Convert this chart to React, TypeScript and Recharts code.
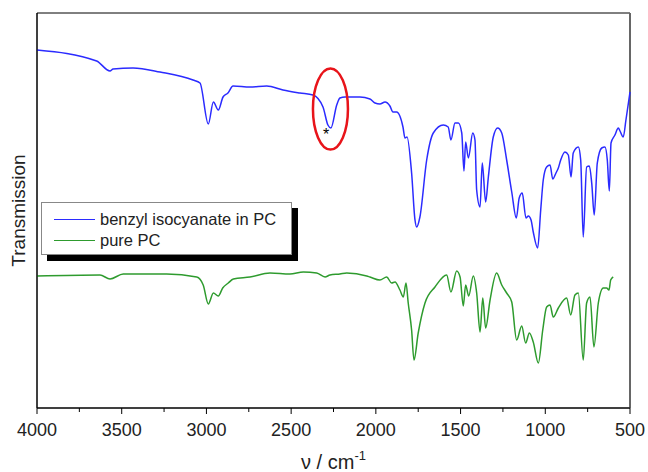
import { ComposedChart, Line, XAxis, YAxis, ReferenceArea, ReferenceDot, ReferenceLine } from "recharts";

// wavenumbers (cm^-1) and relative transmission
const NU_BLUE = [4000, 3648, 3569, 3551, 3433, 3274, 3079, 3038, 2989, 2959, 2930, 2902, 2873, 2843, 2743, 2644, 2548, 2448, 2371, 2312, 2283, 2265, 2231, 2212, 2182, 2094, 2035, 2005, 1976, 1946, 1917, 1899, 1877, 1840, 1828, 1816, 1789, 1769, 1759, 1740, 1700, 1661, 1602, 1573, 1557, 1533, 1513, 1493, 1480, 1470, 1454, 1428, 1415, 1405, 1385, 1372, 1352, 1336, 1307, 1281, 1257, 1228, 1198, 1171, 1154, 1136, 1114, 1100, 1084, 1071, 1045, 1027, 1012, 992, 972, 956, 937, 923, 909, 884, 864, 848, 835, 805, 791, 776, 756, 740, 726, 711, 693, 667, 648, 634, 622, 612, 589, 569, 559, 540, 524, 500];
const T_BLUE = [358, 347, 337, 339, 340, 336, 328, 325, 284, 306, 298, 311, 315, 322, 321, 322, 318, 315, 313, 301, 283, 280, 303, 310, 311, 311, 309, 305, 304, 306, 302, 296, 296, 281, 270, 271, 235, 188, 181, 191, 248, 275, 283, 281, 268, 285, 285, 275, 237, 266, 250, 275, 268, 218, 201, 245, 206, 231, 271, 280, 275, 248, 216, 190, 210, 215, 190, 192, 188, 176, 160, 198, 228, 241, 243, 229, 235, 240, 248, 256, 253, 231, 255, 261, 248, 171, 241, 242, 225, 193, 245, 260, 261, 248, 217, 265, 273, 280, 277, 271, 288, 316];

const NU_GREEN = [4000, 3628, 3569, 3491, 3235, 3057, 3019, 2989, 2959, 2930, 2904, 2871, 2841, 2743, 2625, 2507, 2428, 2349, 2300, 2271, 2212, 2172, 2054, 2035, 1976, 1936, 1907, 1887, 1858, 1838, 1822, 1809, 1789, 1775, 1750, 1710, 1651, 1582, 1557, 1523, 1503, 1484, 1470, 1452, 1425, 1405, 1385, 1369, 1352, 1326, 1287, 1257, 1228, 1198, 1169, 1139, 1116, 1094, 1071, 1041, 1015, 992, 972, 953, 923, 874, 850, 825, 805, 776, 756, 736, 713, 687, 658, 638, 624, 614, 599];
const T_GREEN = [132, 133, 129, 134, 134, 131, 123, 104, 115, 112, 120, 125, 129, 131, 135, 134, 136, 135, 131, 133, 134, 135, 132, 131, 128, 131, 125, 126, 118, 111, 125, 105, 78, 48, 75, 105, 121, 133, 116, 137, 131, 102, 123, 112, 132, 115, 76, 110, 80, 108, 135, 123, 115, 106, 68, 82, 65, 75, 66, 45, 78, 101, 103, 91, 100, 110, 93, 113, 115, 48, 105, 111, 61, 105, 120, 120, 118, 128, 131];

const X_TICKS = [4000, 3750, 3500, 3250, 3000, 2750, 2500, 2250, 2000, 1750, 1500, 1250, 1000, 750, 500];
const SERIES_NAMES = ["benzyl isocyanate in PC", "pure PC"];

// NCO band that gets circled, and where the asterisk sits
const NCO_NU = 2268;
const NCO_T = 299;
const STAR_NU = 2294;
const STAR_T = 277;

const BLUE = "#2b2bff";
const GREEN = "#2e9b2e";
const FONT = "'Liberation Sans', Arial, sans-serif";

const blueData = NU_BLUE.map((nu, i) => ({ nu, t: T_BLUE[i] }));
const greenData = NU_GREEN.map((nu, i) => ({ nu, t: T_GREEN[i] }));

function XTick(props: any) {
  const { x, y, payload } = props;
  const major = payload.value % 500 === 0;
  return (
    <g>
      <line x1={x} x2={x} y1={y} y2={y + (major ? 6 : 4)} stroke="#000" strokeWidth={1} />
      {major && (
        <text x={x} y={y + 28} textAnchor="middle" fontSize={18} fontFamily={FONT} fill="#222">
          {payload.value}
        </text>
      )}
    </g>
  );
}

function XLabel(props: any) {
  const { viewBox } = props;
  const cx = viewBox.x + viewBox.width / 2;
  return (
    <text x={cx} y={viewBox.y + 61} textAnchor="middle" fontSize={20} fontFamily={FONT} fill="#222">
      ν / cm
      <tspan fontSize={13} dy={-9}>-1</tspan>
    </text>
  );
}

function YLabel(props: any) {
  const { viewBox } = props;
  const cy = viewBox.y + viewBox.height / 2;
  const x = 25;
  return (
    <text
      x={x}
      y={cy}
      transform={`rotate(-90, ${x}, ${cy})`}
      textAnchor="middle"
      fontSize={19}
      fontFamily={FONT}
      fill="#222"
    >
      Transmission
    </text>
  );
}

function LegendBox() {
  const row = (name: string, color: string) => (
    <div key={name} style={{ display: "flex", alignItems: "center", height: 21 }}>
      <div style={{ width: 41, height: 0, borderTop: `1px solid ${color}`, marginRight: 5 }} />
      <span>{name}</span>
    </div>
  );
  return (
    <div
      style={{
        position: "absolute",
        left: 41,
        top: 202,
        width: 251,
        height: 53,
        boxSizing: "border-box",
        background: "#fff",
        border: "1px solid #888",
        boxShadow: "6px 6px 0 #000",
        padding: "6px 0 0 12px",
        fontFamily: FONT,
        fontSize: 16.5,
        color: "#222",
        lineHeight: 1,
      }}
    >
      {row(SERIES_NAMES[0], BLUE)}
      {row(SERIES_NAMES[1], GREEN)}
    </div>
  );
}

export default function App() {
  return (
    <div style={{ position: "absolute", left: 0, top: 0, width: 648, height: 472, background: "#fff" }}>
      <ComposedChart width={648} height={472} margin={{ top: 13, right: 18, bottom: 0, left: 0 }}>
        <XAxis
          dataKey="nu"
          type="number"
          domain={[500, 4000]}
          reversed
          ticks={X_TICKS}
          interval={0}
          allowDuplicatedCategory={false}
          tickSize={0}
          tickMargin={0}
          tickLine={false}
          tick={<XTick />}
          axisLine={{ stroke: "#000" }}
          height={64}
          label={<XLabel />}
        />
        <YAxis
          type="number"
          domain={[0, 395]}
          width={37}
          tick={false}
          tickLine={false}
          axisLine={{ stroke: "#000" }}
          label={<YLabel />}
        />
        <ReferenceArea x1={4000} x2={500} y1={0} y2={395} fill="none" stroke="#000" strokeWidth={1} ifOverflow="visible" />
        <ReferenceLine x={500} stroke="#666" strokeWidth={2} ifOverflow="visible" />
        <Line data={blueData} dataKey="t" type="monotone" stroke={BLUE} strokeWidth={1.5} dot={false} isAnimationActive={false} />
        <Line data={greenData} dataKey="t" type="monotone" stroke={GREEN} strokeWidth={1.5} dot={false} isAnimationActive={false} />
        <ReferenceDot
          x={NCO_NU}
          y={NCO_T}
          ifOverflow="visible"
          shape={(p: any) => (
            <ellipse cx={p.cx} cy={p.cy} rx={17.5} ry={40.5} fill="none" stroke="#e8141a" strokeWidth={2.5} />
          )}
        />
        <ReferenceDot
          x={STAR_NU}
          y={STAR_T}
          ifOverflow="visible"
          shape={(p: any) => (
            <text x={p.cx} y={p.cy + 9} textAnchor="middle" fontSize={16} fontFamily={FONT} fill="#000">
              *
            </text>
          )}
        />
      </ComposedChart>
      <LegendBox />
    </div>
  );
}
